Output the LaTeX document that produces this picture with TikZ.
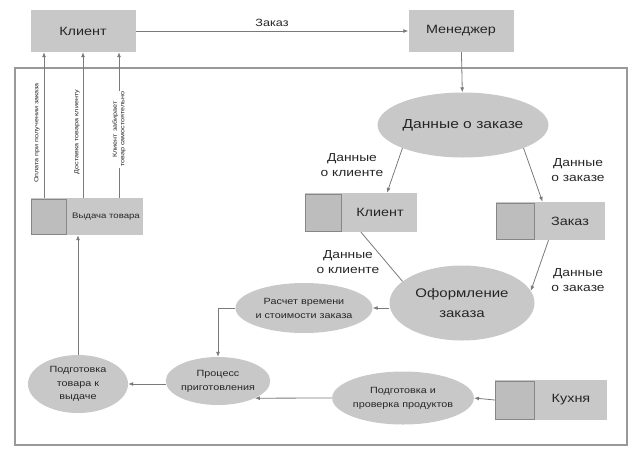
\documentclass[tikz,border=0pt]{standalone}
\usepackage{fontspec}
\setmainfont[FakeStretch=1.2]{Liberation Sans}
\usetikzlibrary{arrows.meta,shapes.geometric}
\definecolor{boxgray}{HTML}{C8C8C8}
\definecolor{sqgray}{HTML}{BDBDBD}
\definecolor{linegray}{HTML}{7A7A7A}
\definecolor{txtgray}{HTML}{262626}

\begin{document}
\begin{tikzpicture}[
  x=1pt, y=-1pt,
  every node/.style={text=txtgray},
  hdr/.style={fill=boxgray, minimum width=105pt, minimum height=42pt, font=\fontsize{12}{14}\selectfont},
  proc/.style={ellipse, fill=boxgray, inner sep=0pt, align=center},
  store/.style={fill=boxgray, minimum height=39pt, inner sep=0pt},
  storesq/.style={draw=linegray!90, fill=sqgray, line width=0.9pt, minimum width=36pt, minimum height=37pt, inner sep=0pt, anchor=west},
  lbl/.style={align=center, font=\fontsize{11.5}{15}\selectfont},
  vlbl/.style={rotate=90, align=center, inner sep=1pt, font=\fontsize{6}{7.5}\selectfont},
  arrow/.style={-{Latex[length=5pt,width=4pt]}, draw=linegray, line width=0.8pt},
  link/.style={draw=linegray, line width=0.8pt},
  frame/.style={draw=gray!80, line width=1.2pt}
]
\useasboundingbox (0,0) rectangle (632,448);

% top level
\node[hdr] (client) at (83,31) {Клиент};
\node[hdr] (manager) at (461,31) {Менеджер};
\draw[frame] (15,68) rectangle (627,445);

% processes
\node[proc, minimum width=132pt, minimum height=65pt, font=\fontsize{13}{15}\selectfont] (orderdata) at (463,125) {Данные о заказе};
\node[proc, minimum width=145pt, minimum height=75pt, font=\fontsize{12.5}{20}\selectfont] (issue) at (462,303) {Оформление\\заказа};
\node[proc, minimum width=112pt, minimum height=50pt, font=\fontsize{9}{14}\selectfont] (calc) at (304,308) {Расчет времени\\и стоимости заказа};
\node[proc, minimum width=97pt, minimum height=48pt, font=\fontsize{9}{14}\selectfont] (cook) at (218,381) {Процесс\\приготовления};
\node[proc, minimum width=100pt, minimum height=58pt, font=\fontsize{9}{13.5}\selectfont] (ready) at (78,384) {Подготовка\\товара к\\выдаче};
\node[proc, minimum width=113pt, minimum height=53pt, font=\fontsize{9}{14}\selectfont] (check) at (403,398) {Подготовка и\\проверка продуктов};

% data stores
\node[store, minimum width=112pt] (clientdb) at (361,212.5) {};
\node[storesq] (clientdbsq) at (clientdb.west) {};
\node[lbl, font=\fontsize{12}{14}\selectfont] (clientdbtxt) at (380,212.5) {Клиент};
\node[store, minimum width=109pt, minimum height=38pt] (orderdb) at (550.5,221) {};
\node[storesq, minimum width=38pt, minimum height=36pt] (orderdbsq) at (orderdb.west) {};
\node[lbl, font=\fontsize{12}{14}\selectfont] (orderdbtxt) at (570,221) {Заказ};
\node[store, minimum width=112pt, minimum height=40pt] (kitchen) at (551,400) {};
\node[storesq, minimum width=39pt, minimum height=38pt] (kitchensq) at (kitchen.west) {};
\node[lbl, font=\fontsize{12}{14}\selectfont] (kitchentxt) at (571,400) {Кухня};
\node[store, minimum width=112pt, minimum height=37pt] (outbox) at (87,216.5) {};
\node[storesq, minimum width=35pt, minimum height=35pt] (outboxsq) at (outbox.west) {};
\node[font=\fontsize{8}{10}\selectfont] (outboxtxt) at (106,216.5) {Выдача товара};

% flow labels
\node[lbl] (lblcl1) at (352,165) {Данные\\о клиенте};
\node[lbl] (lblord1) at (578,170) {Данные\\о заказе};
\node[lbl] (lblcl2) at (348,262) {Данные\\о клиенте};
\node[lbl] (lblord2) at (578,280) {Данные\\о заказе};
\node[vlbl] (pay) at (37,133) {Оплата при получении заказа};
\node[vlbl] (deliv) at (77,132) {Доставка товара клиенту};

% flows
\draw[arrow] (client) -- node[above=1pt, font=\fontsize{10.5}{12}\selectfont] (orderlbl) {Заказ} (manager);
\draw[arrow] (manager) -- (orderdata);
\draw[arrow] (orderdata.south west) -- ([xshift=26]clientdb.north);
\draw[arrow] (orderdata.south east) -- ([xshift=-8]orderdb.north);
\draw[link] (clientdb.south) -- (issue.160);
\draw[arrow] ([xshift=-2]orderdb.south) -- (issue.10);
\draw[arrow] (issue.west |- calc.east) -- (calc.east);
\draw[arrow] (calc.west) -| (cook.north);
\draw[arrow] (cook.west |- ready.east) -- (ready.east);
\draw[arrow] (kitchen.west) -- (check.east);
\draw[arrow] (check.west) -- (cook.-25);
\draw[arrow] (ready.north) -- (ready.north |- outbox.south);
\draw[arrow] ([xshift=-43]outbox.north) -- ([xshift=-43]outbox.north |- client.south);
\draw[arrow] ([xshift=-4]outbox.north) -- ([xshift=-4]outbox.north |- client.south);
\draw[arrow] ([xshift=32]outbox.north) -- node[vlbl, fill=white, pos=0.47] (self) {Клиент забирает\\товар самостоятельно} ([xshift=32]outbox.north |- client.south);
\end{tikzpicture}
\end{document}
